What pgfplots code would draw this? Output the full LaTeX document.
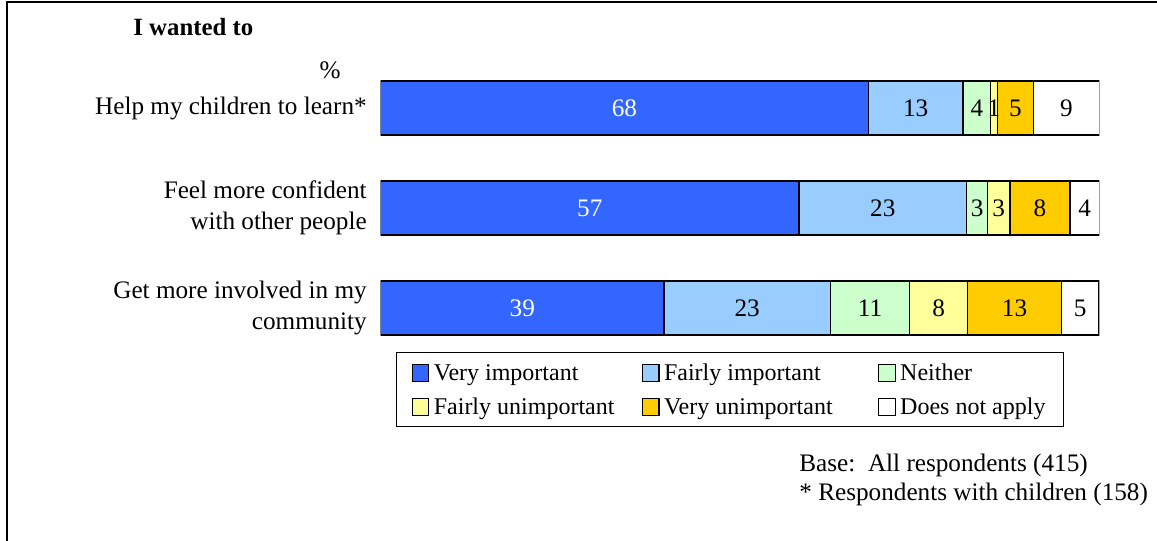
\documentclass[border=0pt]{standalone}
\usepackage{pgfplots}
\pgfplotsset{compat=1.18}
\usepackage{pgfplotstable}
\usepackage{fontspec}
\setmainfont{Liberation Serif}

\definecolor{vimp}{HTML}{3366FF}
\definecolor{fimp}{HTML}{99CCFF}
\definecolor{neith}{HTML}{CCFFCC}
\definecolor{funimp}{HTML}{FFFF99}
\definecolor{vunimp}{HTML}{FFCC00}

\pgfplotstableread{
y x lab
1 67.85 68
2 58.2 57
3 39.4 39
}\vimpdata
\pgfplotstableread{
y x lab
1 13.18 13
2 23.34 23
3 23.2 23
}\fimpdata
\pgfplotstableread{
y x lab
1 3.85 4
2 2.92 3
3 11.0 11
}\neithdata
\pgfplotstableread{
y x lab
1 0.92 1
2 3.10 3
3 8.07 8
}\funimpdata
\pgfplotstableread{
y x lab
1 5.07 5
2 8.35 8
3 13.08 13
}\vunimpdata
\pgfplotstableread{
y x lab
1 9.13 9
2 4.08 4
3 5.2 5
}\dnadata

\newcommand{\lfont}{\fontsize{12.6}{15.5}\selectfont}

\begin{document}
\begin{tikzpicture}
\path[use as bounding box] (0,0) rectangle (578.5pt,270.5pt);
\draw[line width=1.1pt] (3.3pt,0) -- (3.3pt,269.3pt) -- (578.5pt,269.3pt);

\node[anchor=west,font=\bfseries\fontsize{12.4}{15}\selectfont,inner sep=0pt] at (66.5pt,257pt) {I wanted to};
\node[anchor=center,font=\lfont] at (165pt,235.5pt) {\%};
\node[anchor=west,font=\lfont,inner sep=0pt] at (399.5pt,37.8pt) {Base:\ \ All respondents (415)};
\node[anchor=west,font=\lfont,inner sep=0pt] at (399.5pt,23.3pt) {* Respondents with children (158)};

\begin{axis}[
  at={(190.35pt,91.5pt)}, anchor=south west,
  scale only axis, width=359.3pt, height=150pt,
  xbar stacked, bar width=27pt,
  xmin=0, xmax=100, ymin=0.5, ymax=3.5, y dir=reverse,
  axis line style={draw=none}, tick style={draw=none},
  xtick=\empty, ytick={1,2,3},
  yticklabels={{Help my children to learn*},{Feel more confident\\with other people},{Get more involved in my\\community}},
  yticklabel style={align=right, font=\lfont, inner sep=0pt, xshift=-6.8pt},
  every axis plot/.append style={draw=black, line width=0.7pt},
  nodes near coords, point meta=explicit symbolic,
  every node near coord/.append style={anchor=center, font=\lfont, text=black, inner sep=0pt},
  area legend,
  legend image code/.code={\draw[#1, draw=black, line width=0.6pt] (0pt,-4.3pt) rectangle (8.3pt,4.3pt);},
  legend columns=3,
  legend cell align=left,
  legend style={at={(0.0212,0.02)}, anchor=north west, draw=black, line width=0.7pt,
     inner xsep=7.5pt, inner ysep=4pt, row sep=5pt, font=\fontsize{12}{14}\selectfont,
     nodes={inner sep=0pt, text height=10pt, text depth=2pt},
     /tikz/every odd column/.append style={column sep=2.2pt}},
]
\addplot[fill=vimp, every node near coord/.append style={text=white}] table[x=x,y=y,meta=lab]{\vimpdata};
\addlegendentry{\makebox[104pt][l]{Very important}}
\addplot[fill=fimp] table[x=x,y=y,meta=lab]{\fimpdata};
\addlegendentry{\makebox[107pt][l]{Fairly important}}
\addplot[fill=neith] table[x=x,y=y,meta=lab]{\neithdata};
\addlegendentry{\makebox[74pt][l]{Neither}}
\addplot[fill=funimp] table[x=x,y=y,meta=lab]{\funimpdata};
\addlegendentry{\makebox[104pt][l]{Fairly unimportant}}
\addplot[fill=vunimp] table[x=x,y=y,meta=lab]{\vunimpdata};
\addlegendentry{\makebox[107pt][l]{Very unimportant}}
\addplot[fill=white] table[x=x,y=y,meta=lab]{\dnadata};
\addlegendentry{\makebox[74pt][l]{Does not apply}}
\end{axis}
\end{tikzpicture}
\end{document}
